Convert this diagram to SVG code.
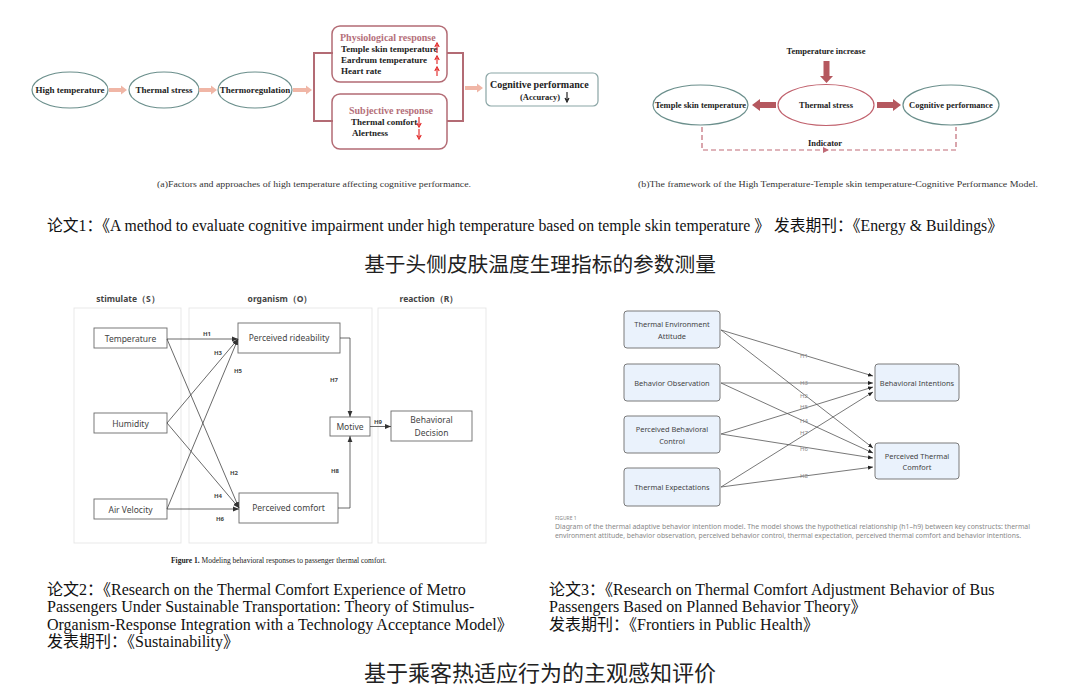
<svg xmlns="http://www.w3.org/2000/svg" width="1080" height="699" viewBox="0 0 1080 699">
<defs>
<style>
.serif{font-family:"Liberation Serif","Noto Sans CJK SC",serif;}
.sb{font-family:"Liberation Serif",serif;font-weight:bold;fill:#222;}
.sans{font-family:"Noto Sans","Noto Sans CJK SC",sans-serif;}
.cjk{font-family:"Noto Sans CJK SC",sans-serif;}
.ell-g{fill:#fff;stroke:#6b8f8c;stroke-width:1.2;}
.rose-box{fill:#fff;stroke:#b36b74;stroke-width:1.5;}
.rose-t{font-family:"Liberation Serif",serif;font-weight:bold;fill:#b5707a;font-size:10px;}
.salmon{fill:#f0b6a6;}
.red{stroke:#e02020;stroke-width:1.1;fill:none;}
.bl-box{fill:#fff;stroke:#6a6a6a;stroke-width:0.9;}
.bl-t{font-family:"Noto Sans","Open Sans",sans-serif;font-size:8.5px;fill:#444;text-anchor:middle;}
.bl-h{font-family:"Noto Sans","Open Sans",sans-serif;font-size:6px;font-weight:bold;fill:#444;text-anchor:middle;}
.panel{fill:#fff;stroke:#e6e6e6;stroke-width:0.9;}
.br-box{fill:#eaf2fc;stroke:#7a7a7a;stroke-width:1;}
.br-t{font-family:"Noto Sans","Open Sans",sans-serif;font-size:7.4px;fill:#444;text-anchor:middle;}
.br-h{font-family:"Noto Sans","Open Sans",sans-serif;font-size:6px;fill:#8a8a8a;text-anchor:middle;}
.bl-line{stroke:#444;stroke-width:0.8;fill:none;marker-end:url(#ah);}
.br-line{stroke:#555;stroke-width:0.8;fill:none;marker-end:url(#ah2);}
.body{font-family:"Liberation Serif","Noto Sans CJK SC",serif;font-size:16px;fill:#111;}
.head{font-family:"Noto Sans CJK SC",sans-serif;fill:#222;text-anchor:middle;}
</style>
<marker id="ah" viewBox="0 0 10 10" refX="10" refY="5" markerWidth="6" markerHeight="6" orient="auto" markerUnits="userSpaceOnUse"><path d="M0,1 L10,5 L0,9 z" fill="#333"/></marker>
<marker id="ah2" viewBox="0 0 10 10" refX="10" refY="5" markerWidth="5" markerHeight="5" orient="auto" markerUnits="userSpaceOnUse"><path d="M0,1 L10,5 L0,9 z" fill="#222"/></marker>
</defs>
<rect width="1080" height="699" fill="#fff"/>

<!-- Diagram (a) -->
<g id="a-high"><ellipse class="ell-g" cx="70" cy="90" rx="38" ry="18"/><text class="sb" x="70" y="93" font-size="9" text-anchor="middle">High temperature</text></g>
<g id="a-stress"><ellipse class="ell-g" cx="164" cy="90" rx="35" ry="18"/><text class="sb" x="164" y="93" font-size="9" text-anchor="middle">Thermal stress</text></g>
<g id="a-thermo"><ellipse class="ell-g" cx="255" cy="90" rx="37" ry="18"/><text class="sb" x="255" y="93" font-size="9" text-anchor="middle">Thermoregulation</text></g>
<g id="a-physio">
<rect class="rose-box" x="332" y="26" width="115" height="56" rx="8"/>
<text class="rose-t" x="340" y="41">Physiological response</text>
<text class="sb" x="341" y="52" font-size="9">Temple skin temperature</text>
<text class="sb" x="341" y="63" font-size="9">Eardrum temperature</text>
<text class="sb" x="341" y="74" font-size="9">Heart rate</text>
<path class="red" d="M437 53 V45 M434.8 47 L437 43 L439.2 47 M437 64 V58 M434.8 60 L437 56 L439.2 60 M437 76 V69 M434.8 71 L437 67 L439.2 71"/>
</g>
<g id="a-subj">
<rect class="rose-box" x="332" y="94" width="115" height="55" rx="8"/>
<text class="rose-t" x="349" y="114">Subjective response</text>
<text class="sb" x="351" y="125" font-size="9">Thermal comfort</text>
<text class="sb" x="352" y="136" font-size="9">Alertness</text>
<path class="red" d="M419 117 V125 M416.8 123 L419 127 L421.2 123 M419 129 V137 M416.8 135 L419 139 L421.2 135"/>
</g>
<g id="a-cog">
<rect x="486" y="73" width="112" height="33" rx="5" fill="#fff" stroke="#8aa5a5" stroke-width="1.2"/>
<text class="sb" x="490" y="88" font-size="10">Cognitive performance</text>
<text class="sb" x="520" y="100" font-size="8.5">(Accuracy)</text>
<path d="M567 92 V100 M565 98 L567 102 L569 98" stroke="#111" stroke-width="1.1" fill="none"/>
</g>
<g id="a-connectors">
<polygon class="salmon" points="109,88 121,88 121,85.5 127,90 121,94.5 121,92 109,92"/>
<polygon class="salmon" points="199,88 211,88 211,85.5 217,90 211,94.5 211,92 199,92"/>
<polygon class="salmon" points="293,88 306,88 306,85.5 312,90 306,94.5 306,92 293,92"/>
<path d="M333 53 H314 V121 H333" fill="none" stroke="#b36b74" stroke-width="2"/>
<path d="M447 53 H463 V121 H447" fill="none" stroke="#b36b74" stroke-width="2"/>
<polygon class="salmon" points="465,86 477,86 477,83.5 483,88 477,92.5 477,90 465,90"/>
</g>
<text class="serif" x="157" y="187" font-size="8" fill="#333" textLength="314" lengthAdjust="spacingAndGlyphs">(a)Factors and approaches of high temperature affecting cognitive performance.</text>

<!-- Diagram (b) -->
<g id="b-tempinc"><text class="sb" x="826" y="54" font-size="8.5" text-anchor="middle">Temperature increase</text></g>
<g id="b-stress"><ellipse cx="826" cy="105" rx="48" ry="20.5" fill="#fff" stroke="#c0606c" stroke-width="1.2"/><text class="sb" x="826" y="108" font-size="8.5" text-anchor="middle">Thermal stress</text></g>
<g id="b-temple"><ellipse class="ell-g" cx="700.5" cy="105" rx="47.5" ry="20"/><text class="sb" x="700.5" y="108" font-size="8.5" text-anchor="middle">Temple skin temperature</text></g>
<g id="b-cog"><ellipse class="ell-g" cx="951" cy="105" rx="48" ry="20"/><text class="sb" x="951" y="108" font-size="8.5" text-anchor="middle">Cognitive performance</text></g>
<g id="b-connectors">
<polygon fill="#b5585f" points="823.5,61 829.5,61 829.5,76 833,76 826.5,83 820,76 823.5,76"/>
<polygon fill="#b5585f" points="776,102 760,102 760,99 752,105 760,111 760,108 776,108"/>
<polygon fill="#b5585f" points="877,102 893,102 893,99 901,105 893,111 893,108 877,108"/>
<path d="M702 127 V150 H956 V127" fill="none" stroke="#c06a76" stroke-width="1.2" stroke-dasharray="5 3"/>
<polygon fill="#c06a76" points="823,147 829,150 823,153"/>
</g>
<text class="sb" x="825" y="146" font-size="8.5" text-anchor="middle">Indicator</text>
<text class="serif" x="638" y="187" font-size="9" fill="#333" textLength="400" lengthAdjust="spacingAndGlyphs">(b)The framework of the High Temperature-Temple skin temperature-Cognitive Performance Model.</text>

<!-- Paper 1 -->
<text class="body" x="47" y="231" textLength="956" lengthAdjust="spacingAndGlyphs">论文1：《A method to evaluate cognitive impairment under high temperature based on temple skin temperature 》 发表期刊：《Energy &amp; Buildings》</text>
<text class="head" x="540" y="272" font-size="20.7">基于头侧皮肤温度生理指标的参数测量</text>

<!-- Bottom-left diagram -->
<g id="bl-panels">
<rect class="panel" x="74" y="308" width="107" height="235"/>
<rect class="panel" x="189" y="308" width="183" height="235"/>
<rect class="panel" x="378" y="308" width="108" height="235"/>
<text class="bl-t" x="128" y="302" font-weight="bold" fill="#333">stimulate（S）</text>
<text class="bl-t" x="280" y="302" font-weight="bold" fill="#333">organism（O）</text>
<text class="bl-t" x="429" y="302" font-weight="bold" fill="#333">reaction（R）</text>
</g>
<g id="bl-temp"><rect class="bl-box" x="94" y="328" width="73" height="20"/><text class="bl-t" x="130.5" y="341.5">Temperature</text></g>
<g id="bl-hum"><rect class="bl-box" x="94" y="413" width="73" height="20"/><text class="bl-t" x="130.5" y="426.5">Humidity</text></g>
<g id="bl-air"><rect class="bl-box" x="94" y="499" width="73" height="20"/><text class="bl-t" x="130.5" y="512.5">Air Velocity</text></g>
<g id="bl-pr"><rect class="bl-box" x="238" y="323" width="102" height="30"/><text class="bl-t" x="289" y="341">Perceived rideability</text></g>
<g id="bl-pc"><rect class="bl-box" x="239" y="493" width="99" height="30"/><text class="bl-t" x="288.5" y="511">Perceived comfort</text></g>
<g id="bl-motive"><rect class="bl-box" x="330" y="417" width="40" height="19"/><text class="bl-t" x="350" y="429.5">Motive</text></g>
<g id="bl-bd"><rect class="bl-box" x="391" y="411" width="81" height="30"/><text class="bl-t" x="431.5" y="423">Behavioral</text><text class="bl-t" x="431.5" y="436">Decision</text></g>
<g id="bl-connectors">
<path class="bl-line" d="M167 339 L238 339"/>
<path class="bl-line" d="M167 339 L239 508"/>
<path class="bl-line" d="M167 423 L238 339"/>
<path class="bl-line" d="M167 423 L239 508"/>
<path class="bl-line" d="M167 509 L238 339"/>
<path class="bl-line" d="M167 509 L239 509"/>
<path class="bl-line" d="M340 338 H350 V417"/>
<path class="bl-line" d="M338 508 H350 V436"/>
<path class="bl-line" d="M370 426.5 H391"/>
<text class="bl-h" x="207" y="336">H1</text>
<text class="bl-h" x="234" y="475">H2</text>
<text class="bl-h" x="218" y="355">H3</text>
<text class="bl-h" x="218" y="498">H4</text>
<text class="bl-h" x="238" y="373">H5</text>
<text class="bl-h" x="220" y="521">H6</text>
<text class="bl-h" x="334" y="382">H7</text>
<text class="bl-h" x="335" y="473">H8</text>
<text class="bl-h" x="378" y="424">H9</text>
</g>
<text class="serif" x="171" y="563" font-size="7.5" fill="#222"><tspan font-weight="bold">Figure 1.</tspan> Modeling behavioral responses to passenger thermal comfort.</text>

<!-- Bottom-right diagram -->
<g id="br-tea"><rect class="br-box" x="624" y="311" width="96" height="37" rx="3"/><text class="br-t" x="672" y="327">Thermal Environment</text><text class="br-t" x="672" y="339">Attitude</text></g>
<g id="br-bo"><rect class="br-box" x="624" y="364" width="96" height="37" rx="3"/><text class="br-t" x="672" y="385.5">Behavior Observation</text></g>
<g id="br-pbc"><rect class="br-box" x="624" y="416" width="96" height="37" rx="3"/><text class="br-t" x="672" y="432">Perceived Behavioral</text><text class="br-t" x="672" y="444">Control</text></g>
<g id="br-te"><rect class="br-box" x="624" y="468" width="96" height="38" rx="3"/><text class="br-t" x="672" y="490">Thermal Expectations</text></g>
<g id="br-bi"><rect class="br-box" x="875" y="364" width="84" height="37" rx="3"/><text class="br-t" x="917" y="385.5">Behavioral Intentions</text></g>
<g id="br-ptc"><rect class="br-box" x="875" y="443" width="84" height="36" rx="3"/><text class="br-t" x="917" y="459">Perceived Thermal</text><text class="br-t" x="917" y="470">Comfort</text></g>
<g id="br-connectors">
<path class="br-line" d="M721 330 L873 376"/>
<path class="br-line" d="M721 330 L873 448"/>
<path class="br-line" d="M721 383 L873 383"/>
<path class="br-line" d="M721 383 L873 453"/>
<path class="br-line" d="M721 434 L873 387"/>
<path class="br-line" d="M721 434 L873 458"/>
<path class="br-line" d="M721 487 L873 392"/>
<path class="br-line" d="M721 487 L873 467"/>
<text class="br-h" x="804" y="358">H1</text>
<text class="br-h" x="804" y="385">H3</text>
<text class="br-h" x="804" y="398">H2</text>
<text class="br-h" x="804" y="409">H5</text>
<text class="br-h" x="804" y="423">H4</text>
<text class="br-h" x="804" y="435">H7</text>
<text class="br-h" x="804" y="451">H6</text>
<text class="br-h" x="804" y="478">H8</text>
</g>
<text class="sans" x="555" y="520" font-size="5" fill="#888">FIGURE 1</text>
<text class="sans" x="555" y="529" font-size="6.8" fill="#888" textLength="475" lengthAdjust="spacingAndGlyphs">Diagram of the thermal adaptive behavior intention model. The model shows the hypothetical relationship (h1–h9) between key constructs: thermal</text>
<text class="sans" x="555" y="538" font-size="6.8" fill="#888" textLength="466" lengthAdjust="spacingAndGlyphs">environment attitude, behavior observation, perceived behavior control, thermal expectation, perceived thermal comfort and behavior intentions.</text>

<!-- Paper 2 & 3 -->
<text class="body" x="47" y="595">论文2：《Research on the Thermal Comfort Experience of Metro</text>
<text class="body" x="47" y="612">Passengers Under Sustainable Transportation: Theory of Stimulus-</text>
<text class="body" x="47" y="630">Organism-Response Integration with a Technology Acceptance Model》</text>
<text class="body" x="47" y="647">发表期刊：《Sustainability》</text>
<text class="body" x="549" y="595">论文3：《Research on Thermal Comfort Adjustment Behavior of Bus</text>
<text class="body" x="549" y="612">Passengers Based on Planned Behavior Theory》</text>
<text class="body" x="549" y="630">发表期刊：《Frontiers in Public Health》</text>
<text class="head" x="540" y="681" font-size="22">基于乘客热适应行为的主观感知评价</text>
</svg>
